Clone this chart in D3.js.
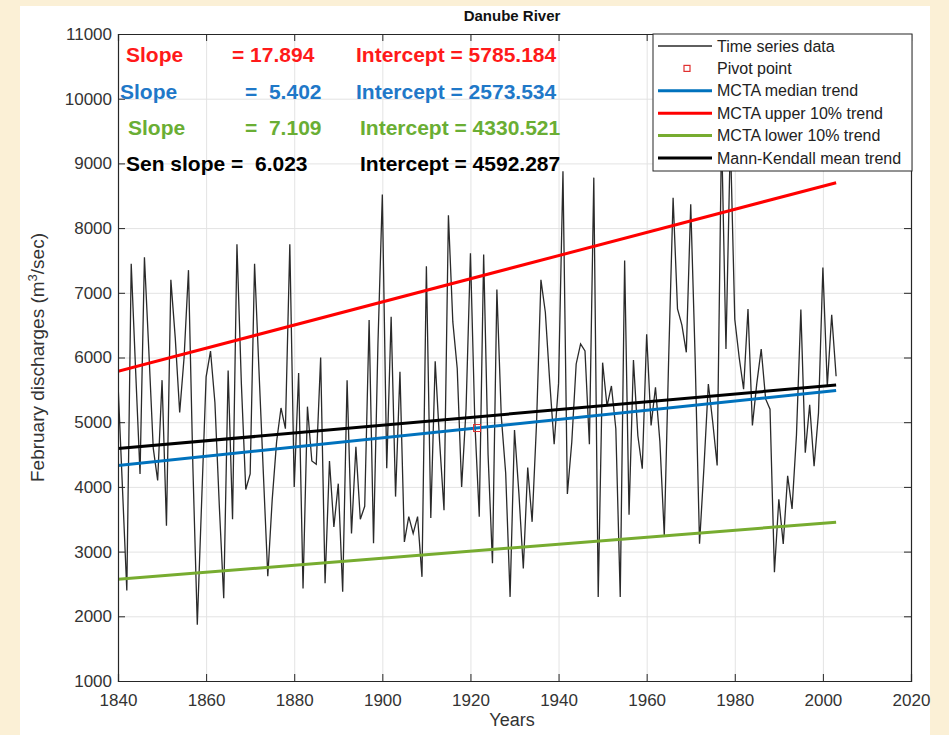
<!DOCTYPE html>
<html>
<head>
<meta charset="utf-8">
<script src="https://cdn.jsdelivr.net/npm/d3@7"></script>
<style>
  html, body { margin: 0; padding: 0; background: #fbf0d6; }
  svg { display: block; }
  text { font-family: "Liberation Sans", Arial, sans-serif; white-space: pre; }
</style>
</head>
<body>
<svg id="chart"></svg>
<script>
const W = 949;
const H = 735;
const pd = { top: 34, left: 118, right: 38, bottom: 54 };
const width = W - pd.left - pd.right;
const height = H - pd.top - pd.bottom;

// February discharges, one value per year from 1840
const firstYear = 1840;
const discharge = [
  5600, 4000, 2400, 7450, 5800, 4200, 7550, 6100, 4600, 4100,
  5650, 3400, 7200, 6300, 5150, 6000, 7350, 4300, 1870, 3800,
  5700, 6100, 5300, 3700, 2280, 5800, 3500, 7750, 5600, 3960,
  4200, 7450, 5800, 4200, 2620, 3800, 4700, 5220, 4900, 7750,
  4000, 5760, 2430, 5240, 4400, 4350, 6000, 2510, 4400, 3380,
  4050, 2380, 5650, 3280, 4620, 3500, 3700, 6580, 3130, 6200,
  8520, 4290, 6630, 3850, 5780, 3150, 3540, 3280, 3540, 2610,
  7410, 3520, 5940, 4700, 3640, 8200, 6550, 5830, 4000, 5200,
  7610, 5000, 3540, 7590, 4500, 2820, 7050, 5090, 4210, 2300,
  4880, 3900, 2740, 4300, 3460, 4980, 7200, 6700, 5620, 4660,
  5600, 8880, 3890, 4690, 5900, 6210, 6100, 4660, 8780, 2300,
  5920, 5250, 5560, 4900, 2300, 7500, 3570, 5960, 4790, 4280,
  6360, 4950, 5540, 4700, 3250, 6000, 8470, 6750, 6500, 6080,
  8370, 6000, 3120, 4300, 5590, 5000, 4330, 9500, 6130, 9400,
  6590, 6000, 5510, 6750, 4950, 5600, 6130, 5360, 5200, 2680,
  3810, 3120, 4170, 3660, 4800, 6740, 4530, 5270, 4320, 5140,
  7390, 5560, 6660, 5710
];
const series = discharge.map((v, i) => ({ year: firstYear + i, value: v }));
const lastYear = firstYear + discharge.length - 1;

const xTicks = [1840, 1860, 1880, 1900, 1920, 1940, 1960, 1980, 2000, 2020];
const yTicks = [1000, 2000, 3000, 4000, 5000, 6000, 7000, 8000, 9000, 10000, 11000];

// trend lines as drawn (intercept at 1840, slope per year)
const trendNames = ['MCTA median trend', 'MCTA upper 10% trend', 'MCTA lower 10% trend', 'Mann-Kendall mean trend'];
const trendSlopes = [7.109, 17.894, 5.402, 6.023];
const trendIntercepts = [4330.521, 5785.184, 2573.534, 4592.287];
const trendColors = ['#0072BD', '#FF0000', '#77AC30', '#000000'];

const pivot = { year: 1921.5, value: 4910 };

// annotation rows
const noteLeft = ['Slope', 'Slope', 'Slope', 'Sen slope =  6.023'];
const noteMid = ['= 17.894', '=  5.402', '=  7.109', ''];
const noteRight = ['Intercept = 5785.184', 'Intercept = 2573.534', 'Intercept = 4330.521', 'Intercept = 4592.287'];
const noteColors = ['#FF1A1A', '#1F78C8', '#6AAE34', '#000000'];
const noteLeftX = [126, 120, 128, 126];
const noteMidX = [232, 245, 245, 0];
const noteRightX = [356, 356, 360, 360];
const noteY = [62, 99, 135, 171];

const svg = d3.select('#chart')
  .attr('width', W)
  .attr('height', H)

svg.append('rect')
  .attr('x', 20)
  .attr('y', 6)
  .attr('width', 910)
  .attr('height', H - 6)
  .attr('fill', '#fff')

const x = d3.scaleLinear()
  .domain([1840, 2020])
  .range([0, width])

const y = d3.scaleLinear()
  .domain([1000, 11000])
  .range([height, 0])

const g = svg.append('g')
  .attr('transform', `translate(${pd.left}, ${pd.top})`)

svg.append('defs')
  .append('clipPath')
  .attr('id', 'clip')
  .append('rect')
  .attr('width', width)
  .attr('height', height)

// grid
g.append('g')
  .selectAll('line.vgrid')
  .data(xTicks.slice(1, -1))
  .enter()
  .append('line')
  .attr('x1', d => x(d) + 0.5)
  .attr('x2', d => x(d) + 0.5)
  .attr('y1', 0)
  .attr('y2', height)
  .attr('stroke', '#e3e3e3')
  .attr('stroke-width', 1)

g.append('g')
  .selectAll('line.hgrid')
  .data(yTicks.slice(1, -1))
  .enter()
  .append('line')
  .attr('x1', 0)
  .attr('x2', width)
  .attr('y1', d => y(d) + 0.5)
  .attr('y2', d => y(d) + 0.5)
  .attr('stroke', '#e3e3e3')
  .attr('stroke-width', 1)

// time series
const plot = g.append('g').attr('clip-path', 'url(#clip)')

plot.append('path')
  .datum(series)
  .attr('d', d3.line().x(d => x(d.year)).y(d => y(d.value)))
  .attr('fill', 'none')
  .attr('stroke', '#2a2a2a')
  .attr('stroke-width', 1.3)

// trend lines
trendSlopes.forEach((s, i) => {
  const ends = [firstYear, lastYear].map(yr => ({
    year: yr,
    value: trendIntercepts[i] + s * (yr - firstYear)
  }))
  plot.append('path')
    .datum(ends)
    .attr('d', d3.line().x(d => x(d.year)).y(d => y(d.value)))
    .attr('fill', 'none')
    .attr('stroke', trendColors[i])
    .attr('stroke-width', 3)
})

plot.append('rect')
  .attr('x', x(pivot.year) - 3.5)
  .attr('y', y(pivot.value) - 3.5)
  .attr('width', 7)
  .attr('height', 7)
  .attr('fill', 'none')
  .attr('stroke', '#e03030')
  .attr('stroke-width', 1)

// axes, ticks pointing inward
const axisColor = '#262626'
const xa = g.append('g')
  .attr('transform', `translate(0, ${height})`)
  .call(d3.axisBottom(x).tickValues(xTicks).tickFormat(d3.format('d')).tickSize(-7).tickPadding(10))
const xt = g.append('g')
  .call(d3.axisTop(x).tickValues(xTicks).tickFormat('').tickSize(-7))
const ya = g.append('g')
  .call(d3.axisLeft(y).tickValues(yTicks).tickFormat(d3.format('d')).tickSize(-7).tickPadding(6))
const yr = g.append('g')
  .attr('transform', `translate(${width}, 0)`)
  .call(d3.axisRight(y).tickValues(yTicks).tickFormat('').tickSize(-7))

;[xa, xt, ya, yr].forEach(a => {
  a.select('.domain').attr('stroke', axisColor).attr('stroke-width', 1.2)
  a.selectAll('.tick line').attr('stroke', axisColor)
  a.selectAll('text')
    .attr('fill', '#333')
    .style('font-size', '17px')
    .style('font-family', '"Liberation Sans", Arial, sans-serif')
})
xa.selectAll('text').attr('dy', '0.9em')

// title and axis labels
svg.append('text')
  .attr('x', 512)
  .attr('y', 21)
  .attr('text-anchor', 'middle')
  .attr('font-weight', 'bold')
  .attr('font-size', 15)
  .attr('fill', '#111')
  .text('Danube River')

svg.append('text')
  .attr('x', 512)
  .attr('y', 726)
  .attr('text-anchor', 'middle')
  .attr('font-size', 18)
  .attr('fill', '#333')
  .text('Years')

const yl = svg.append('text')
  .attr('transform', `translate(44, ${pd.top + height / 2}) rotate(-90)`)
  .attr('text-anchor', 'middle')
  .attr('font-size', 19)
  .attr('fill', '#333')
yl.append('tspan').text('February discharges (m')
yl.append('tspan').attr('baseline-shift', 'super').attr('font-size', 13).text('3')
yl.append('tspan').text('/sec)')

// slope / intercept notes
noteY.forEach((ty, i) => {
  const row = [[noteLeft[i], noteLeftX[i]], [noteMid[i], noteMidX[i]], [noteRight[i], noteRightX[i]]]
  row.forEach(([t, tx]) => {
    if (!t) return
    svg.append('text')
      .attr('x', tx)
      .attr('y', ty)
      .attr('font-weight', 'bold')
      .attr('font-size', 21)
      .attr('fill', noteColors[i])
      .text(t)
  })
})

// legend
const lg = svg.append('g').attr('transform', 'translate(653, 34)')
lg.append('rect')
  .attr('width', 259)
  .attr('height', 137)
  .attr('fill', '#fff')
  .attr('stroke', axisColor)
  .attr('stroke-width', 1)

const legendLabels = ['Time series data', 'Pivot point'].concat(trendNames)
const rowY = i => 12 + i * 22.4
legendLabels.forEach((lab, i) => {
  const cy = rowY(i)
  if (i === 0) {
    lg.append('line')
      .attr('x1', 5).attr('x2', 59).attr('y1', cy).attr('y2', cy)
      .attr('stroke', '#2a2a2a').attr('stroke-width', 1.3)
  } else if (i === 1) {
    lg.append('rect')
      .attr('x', 31).attr('y', cy - 3).attr('width', 6).attr('height', 6)
      .attr('fill', 'none').attr('stroke', '#e03030').attr('stroke-width', 1.2)
  } else {
    lg.append('line')
      .attr('x1', 5).attr('x2', 59).attr('y1', cy).attr('y2', cy)
      .attr('stroke', trendColors[i - 2]).attr('stroke-width', 3)
  }
  lg.append('text')
    .attr('x', 64)
    .attr('y', cy + 5.5)
    .attr('font-size', 16)
    .attr('fill', '#222')
    .text(lab)
})
</script>
</body>
</html>
